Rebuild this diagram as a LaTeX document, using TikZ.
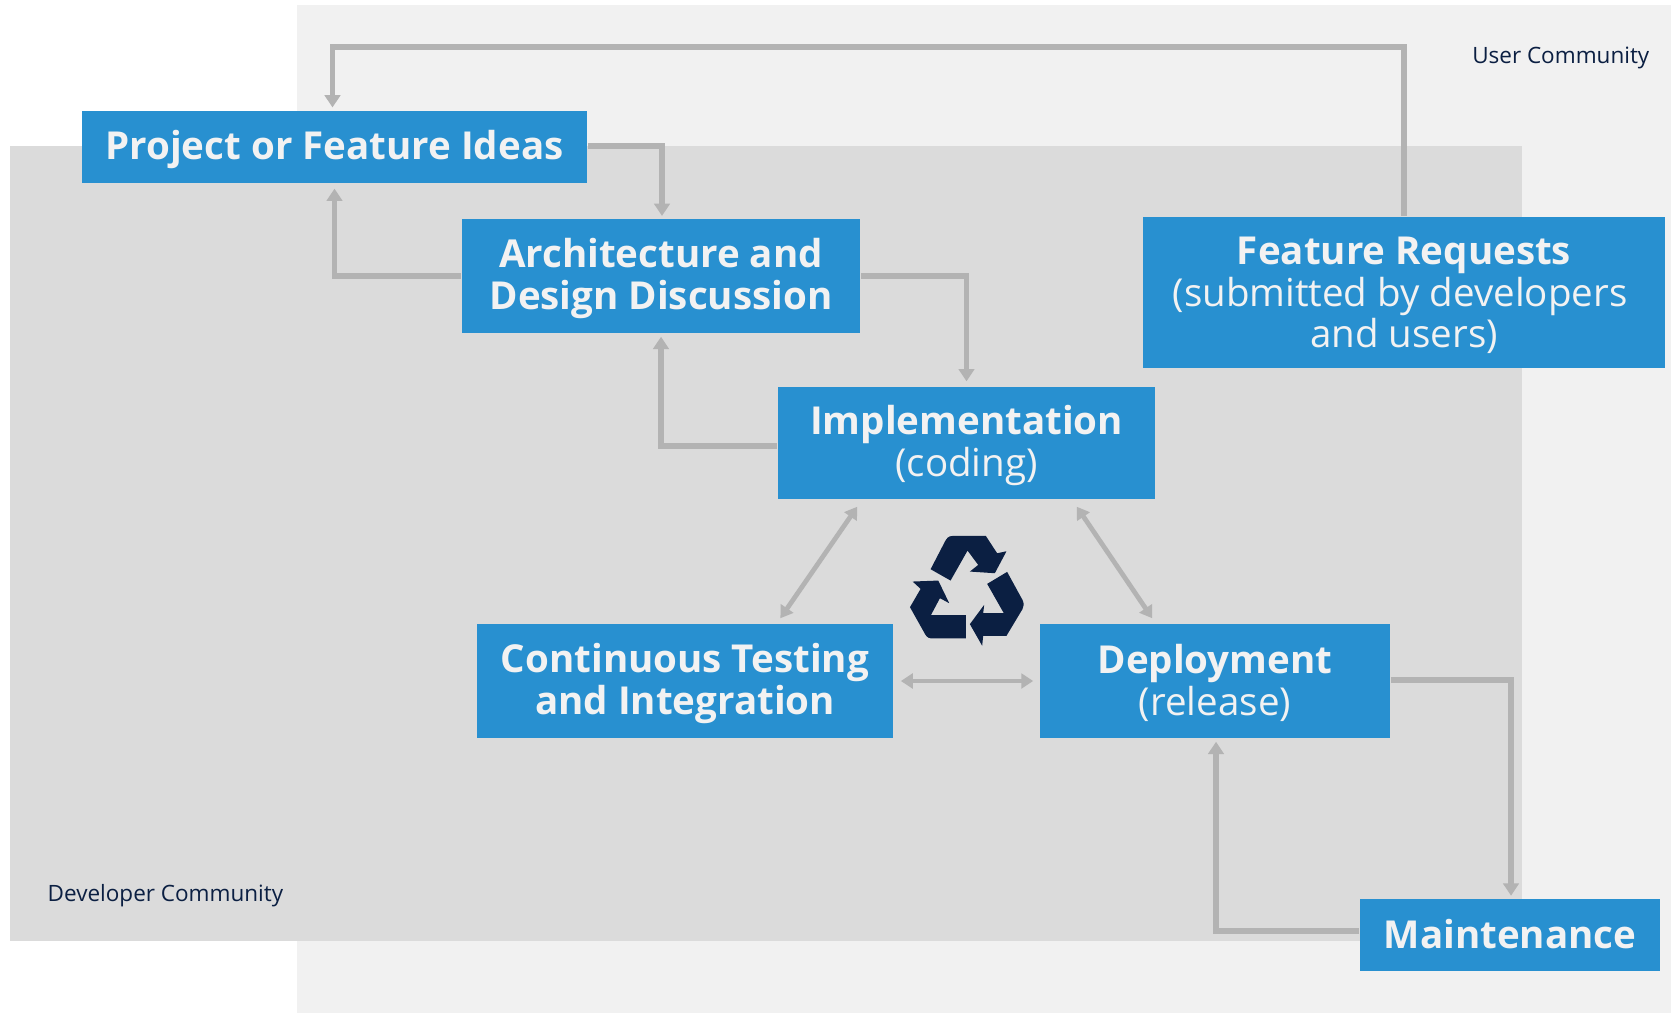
\documentclass[tikz,border=0pt]{standalone}
\usepackage{fontspec}
\setmainfont{Open Sans}
\usetikzlibrary{arrows.meta}
\definecolor{boxblue}{HTML}{2890D0}
\definecolor{linegray}{HTML}{B3B3B3}
\definecolor{navy}{HTML}{0B1F42}
\definecolor{userbg}{HTML}{F1F1F1}
\definecolor{devbg}{HTML}{DBDBDB}
\definecolor{boxtext}{HTML}{F2F2F2}
\newcommand{\linetop}{\rule{0pt}{9.74pt}}
\newcommand{\linebot}{\rule[-2pt]{0pt}{2pt}}
\tikzset{
  phasebox/.style={fill=boxblue,text=boxtext,inner sep=0pt,align=center,
    font=\fontsize{10.95}{11.85}\selectfont},
  flowline/.style={draw=linegray,line width=1.6pt,-{Triangle[width=4.4pt,length=3.5pt]},shorten >=1.4pt},
  bothline/.style={draw=linegray,line width=1.35pt,{Triangle[width=4.2pt,length=3.4pt]}-{Triangle[width=4.2pt,length=3.4pt]}},
  cornertext/.style={text=navy,inner sep=0pt,font=\fontsize{6.4}{7.5}\selectfont},
}
\begin{document}
\begin{tikzpicture}[x=0.01cm,y=-0.01cm]
\useasboundingbox (0,0) rectangle (1671,1013);

\fill[userbg] (297,5) rectangle (1671,1013);
\fill[devbg] (10,146) rectangle (1522,941);

\node[cornertext,anchor=east] (usertext) at (1650,58) {User Community};
\node[cornertext,anchor=west] (devtext) at (47,896) {Developer Community};

\node[phasebox,minimum width=5.05cm,minimum height=0.72cm] (ideas) at (334.5,147) {\linetop\textbf{Project or Feature Ideas}\linebot};
\node[phasebox,minimum width=3.985cm,minimum height=1.13cm] (design) at (661,276) {\linetop\textbf{Architecture and}\\\textbf{Design Discussion}\linebot};
\node[phasebox,minimum width=3.77cm,minimum height=1.12cm] (coding) at (966.5,443) {\linetop\textbf{Implementation}\\(coding)\linebot};
\node[phasebox,minimum width=4.16cm,minimum height=1.13cm] (testing) at (685,681) {\linetop\textbf{Continuous Testing}\\\textbf{and Integration}\linebot};
\node[phasebox,minimum width=3.5cm,minimum height=1.13cm] (release) at (1215,681) {\linetop\textbf{Deployment}\\(release)\linebot};
\node[phasebox,minimum width=5.215cm,minimum height=1.51cm] (requests) at (1404,292.5) {\linetop\textbf{Feature Requests}\\(submitted by developers\kern0.08cm\mbox{}\\and users)\linebot};
\node[phasebox,minimum width=3cm,minimum height=0.715cm] (upkeep) at (1510,935) {\linetop\textbf{Maintenance}\linebot};

\coordinate (topline) at (800,47);

\draw[flowline,shorten >=0.8pt] (requests.north) |- (topline) -| ([xshift=-0.02cm]ideas.north);
\draw[flowline,shorten >=0.8pt] ([yshift=0.01cm]ideas.east) -| ([xshift=0.01cm]design.north);
\draw[flowline] (design.west) -| (ideas.south);
\draw[flowline] (design.east) -| (coding.north);
\draw[flowline,shorten >=1pt] ([yshift=-0.03cm]coding.west) -| (design.south);
\draw[flowline,shorten >=0.8pt] ([yshift=0.01cm]release.east) -| ([xshift=0.01cm]upkeep.north);
\draw[flowline,shorten >=1pt] ([yshift=0.04cm]upkeep.west) -| ([xshift=0.01cm]release.south);

\draw[bothline] ([xshift=0.8cm,yshift=-0.07cm]coding.south west) -- ([xshift=3.04cm,yshift=0.055cm]testing.north west);
\draw[bothline] ([xshift=-0.79cm,yshift=-0.07cm]coding.south east) -- ([xshift=1.13cm,yshift=0.055cm]release.north west);
\draw[bothline] ([xshift=0.07cm]testing.east) -- ([xshift=-0.06cm]release.west);

% recycle mark
\begin{scope}[shift={(880,510)},x=0.00333cm,y=-0.00333cm]
\fill[navy] (152,178) -- (195,95) .. controls (201,84) and (206,78) .. (218,78) -- (318,78) -- (352,130) -- (380,124) -- (345,190) -- (270,185) -- (295,165) -- (263,122) -- (212,212) -- cycle;
\fill[navy] (322,222) -- (382,186) -- (428,270) .. controls (433,280) and (433,290) .. (428,298) -- (380,378) -- (310,378) -- (307,408) -- (270,343) -- (313,285) -- (310,310) -- (372,310) -- cycle;
\fill[navy] (98,215) -- (175,212) -- (208,280) -- (180,265) -- (153,316) -- (258,316) -- (258,386) -- (160,386) .. controls (148,386) and (142,384) .. (136,374) -- (90,292) -- (122,237) -- cycle;
\end{scope}
\end{tikzpicture}
\end{document}
